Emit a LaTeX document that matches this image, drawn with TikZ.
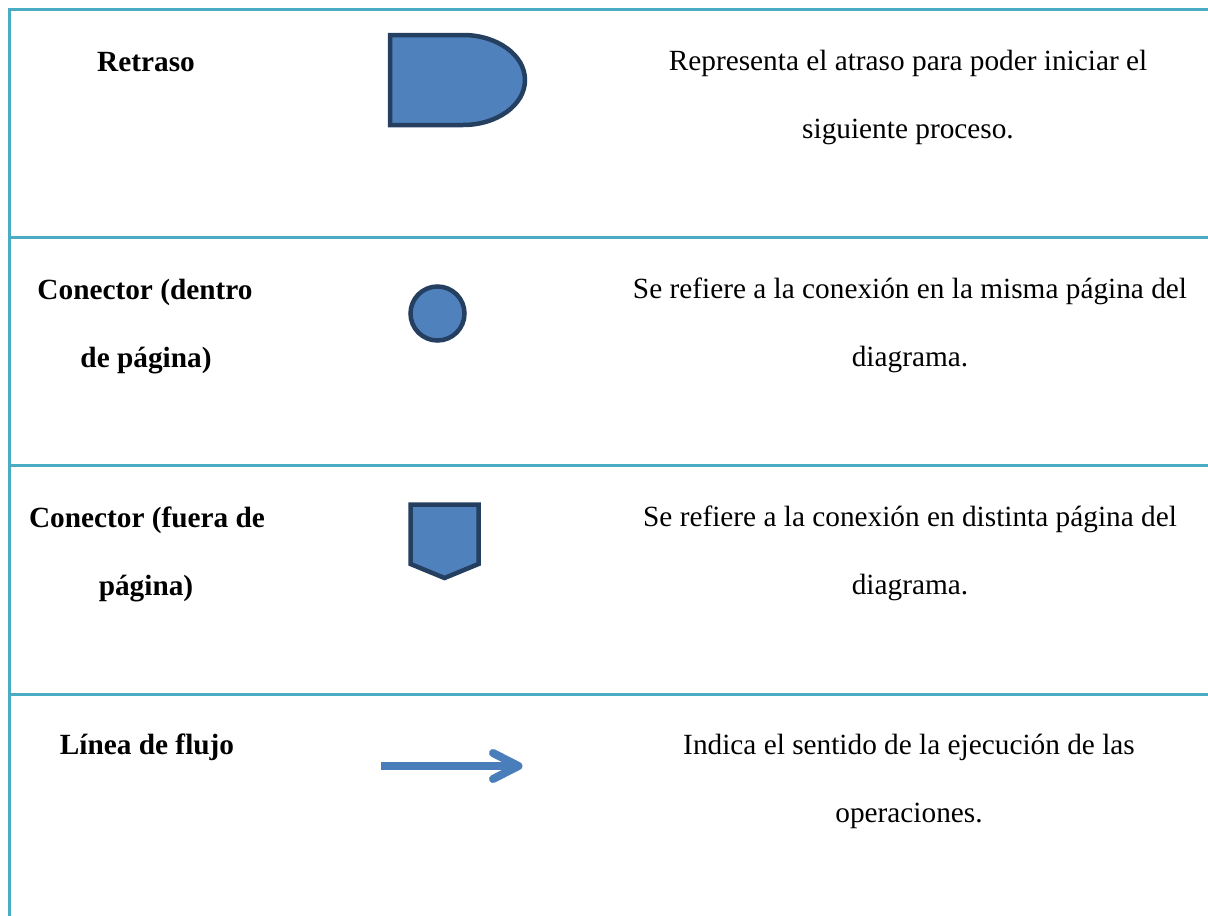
\documentclass[tikz,border=0pt]{standalone}
\usepackage{fontspec}
\setmainfont{Liberation Serif}
\definecolor{gridcol}{HTML}{4BACC6}
\definecolor{shapefill}{HTML}{4F81BD}
\definecolor{shapedraw}{HTML}{243F60}
\definecolor{arrowcol}{HTML}{4A7EBB}
\tikzset{
  gridline/.style={draw=gridcol, line width=3pt},
  symbolshape/.style={fill=shapefill, draw=shapedraw, line width=4.5pt},
  termtext/.style={anchor=base, inner sep=0pt, font=\fontsize{29.3}{34}\selectfont\bfseries},
  desctext/.style={anchor=base, inner sep=0pt, font=\fontsize{29.3}{34}\selectfont},
}
\begin{document}
\begin{tikzpicture}[x=1pt,y=-1pt]
\useasboundingbox (0,0) rectangle (1208,916);
% table lines
\draw[gridline] (9,9.5) -- (9,916);
\foreach \yy in {9.5,237,465,694} {
  \draw[gridline] (7.5,\yy) -- (1208,\yy);
}
% Row 1
\node[termtext] (t1) at (146,71) {Retraso};
\draw[symbolshape] (390,35) -- (463,35) arc[start angle=-90, end angle=90, x radius=62, y radius=45] -- (390,125) -- cycle;
\node[desctext] (d1a) at (908,70) {Representa el atraso para poder iniciar el};
\node[desctext] (d1b) at (908,138) {siguiente proceso.};
% Row 2
\node[termtext] (t2a) at (145,299) {Conector (dentro};
\node[termtext] (t2b) at (146,367) {de página)};
\draw[symbolshape] (437.5,313.5) circle[radius=27];
\node[desctext] (d2a) at (910,298) {Se refiere a la conexión en la misma página del};
\node[desctext] (d2b) at (910,366) {diagrama.};
% Row 3
\node[termtext] (t3a) at (147,527) {Conector (fuera de};
\node[termtext] (t3b) at (146,595) {página)};
\draw[symbolshape, line join=miter] (410.5,504.5) -- (478.5,504.5) -- (478.5,564) -- (444.5,578) -- (410.5,564) -- cycle;
\node[desctext] (d3a) at (910,526) {Se refiere a la conexión en distinta página del};
\node[desctext] (d3b) at (910,594) {diagrama.};
% Row 4
\node[termtext] (t4) at (147,754) {Línea de flujo};
\coordinate (as) at (381,766);
\coordinate (ae) at (516,766);
\draw[arrowcol, line width=8pt, line cap=butt] (as) -- (ae);
\draw[arrowcol, line width=8pt, line cap=round, line join=round] (493,753) -- (518.5,766) -- (493,779);
\node[desctext] (d4a) at (909,754) {Indica el sentido de la ejecución de las};
\node[desctext] (d4b) at (909,822) {operaciones.};
\end{tikzpicture}
\end{document}
